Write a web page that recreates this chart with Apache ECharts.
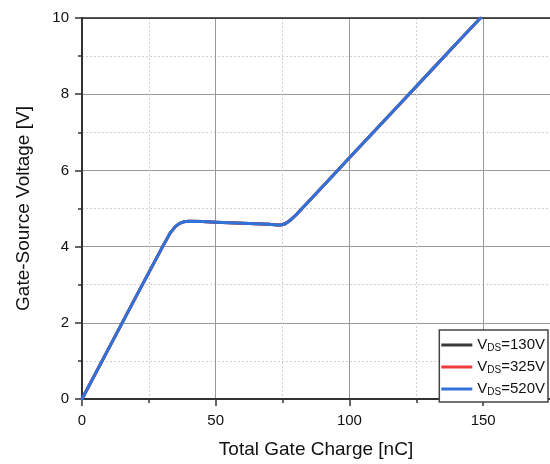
<!DOCTYPE html>
<html>
<head>
<meta charset="utf-8">
<script src="https://cdn.jsdelivr.net/npm/echarts@6/dist/echarts.min.js"></script>
<style>
  html, body { margin: 0; padding: 0; background: #fff; }
  #chart { width: 550px; height: 464px; }
</style>
</head>
<body>
<div id="chart"></div>
<script>
// total gate charge [nC]
const charge = [0, 10, 20, 30, 33, 35, 36.5, 38, 40, 45, 50, 55, 60, 65, 70, 73, 74.5, 76, 78, 80, 90, 100, 110, 120, 130, 140, 149]
// gate-source voltage [V], the three curves lie on top of each other
const vgs130 = [0, 1.33, 2.66, 3.98, 4.36, 4.53, 4.61, 4.65, 4.665, 4.66, 4.64, 4.625, 4.61, 4.6, 4.585, 4.57, 4.57, 4.6, 4.7, 4.83, 5.58, 6.33, 7.08, 7.83, 8.58, 9.33, 10]
const vgs325 = [0, 1.33, 2.66, 3.98, 4.36, 4.53, 4.61, 4.65, 4.665, 4.66, 4.64, 4.625, 4.61, 4.6, 4.585, 4.57, 4.57, 4.6, 4.7, 4.83, 5.58, 6.33, 7.08, 7.83, 8.58, 9.33, 10]
const vgs520 = [0, 1.33, 2.66, 3.98, 4.36, 4.53, 4.61, 4.65, 4.665, 4.66, 4.64, 4.625, 4.61, 4.6, 4.585, 4.57, 4.57, 4.6, 4.7, 4.83, 5.58, 6.33, 7.08, 7.83, 8.58, 9.33, 10]
const seriesNames = ['130V', '325V', '520V']
const xTicks = [0, 50, 100, 150]

const font = 'Liberation Sans, Arial, sans-serif'
const chart = echarts.init(document.getElementById('chart'))

const pairs = ys => charge.map((q, i) => [q, ys[i]])

const makeSeries = (name, ys, color) => ({
  name: name,
  type: 'line',
  data: pairs(ys),
  showSymbol: false,
  smooth: false,
  lineStyle: { color: color, width: 3, join: 'round', cap: 'round' },
  itemStyle: { color: color }
})

const option = {
  animation: false,
  grid: { left: 82, right: 0, top: 18, bottom: 62 },
  legend: {
    orient: 'vertical',
    right: 2,
    bottom: 62,
    padding: [4, 3, 5, 2],
    itemGap: 3,
    itemWidth: 31,
    itemHeight: 3,
    icon: 'rect',
    backgroundColor: '#fff',
    borderColor: '#444',
    borderWidth: 1.5,
    borderRadius: 0,
    data: seriesNames,
    formatter: name => '{v|V}{s|DS}{v|=' + name + '}',
    textStyle: {
      fontFamily: font,
      rich: {
        v: { fontSize: 15, fontFamily: font, color: '#111', verticalAlign: 'top', lineHeight: 16 },
        s: { fontSize: 10, fontFamily: font, color: '#111', verticalAlign: 'bottom', lineHeight: 10, padding: [9, 0, 0, 0] }
      }
    }
  },
  xAxis: [
    {
      type: 'value',
      min: 0,
      max: 175,
      interval: 50,
      name: 'Total Gate Charge [nC]',
      nameLocation: 'middle',
      nameGap: 41,
      nameTextStyle: { fontSize: 19, fontFamily: font, color: '#111' },
      axisLine: { show: true, lineStyle: { color: '#333', width: 2 } },
      axisTick: { show: true, length: 7, customValues: xTicks, lineStyle: { color: '#333', width: 1.5 } },
      minorTick: { show: true, splitNumber: 2, length: 4, lineStyle: { color: '#333', width: 1.5 } },
      axisLabel: { customValues: xTicks, margin: 14, fontSize: 15, fontFamily: font, color: '#111' },
      splitLine: { show: true, lineStyle: { color: '#999', width: 1 } },
      minorSplitLine: { show: true, lineStyle: { color: '#d0d0d0', width: 1, type: [2, 2] } }
    },
    {
      type: 'value',
      position: 'top',
      min: 0,
      max: 175,
      axisLine: { show: true, lineStyle: { color: '#222', width: 1.5 } },
      axisTick: { show: false },
      axisLabel: { show: false },
      splitLine: { show: false }
    }
  ],
  yAxis: {
    type: 'value',
    min: 0,
    max: 10,
    interval: 2,
    name: 'Gate-Source Voltage [V]',
    nameLocation: 'middle',
    nameGap: 49,
    nameTextStyle: { fontSize: 19, fontFamily: font, color: '#111' },
    axisLine: { show: true, lineStyle: { color: '#333', width: 2 } },
    axisTick: { show: true, length: 7, lineStyle: { color: '#333', width: 1.5 } },
    minorTick: { show: true, splitNumber: 2, length: 4, lineStyle: { color: '#333', width: 1.5 } },
    axisLabel: { margin: 13, fontSize: 15, fontFamily: font, color: '#111' },
    splitLine: { show: true, lineStyle: { color: '#999', width: 1 } },
    minorSplitLine: { show: true, lineStyle: { color: '#d0d0d0', width: 1, type: [2, 2] } }
  },
  series: [
    makeSeries(seriesNames[0], vgs130, '#3a3a3a'),
    makeSeries(seriesNames[1], vgs325, '#ee3b3b'),
    makeSeries(seriesNames[2], vgs520, '#2f72d9')
  ]
}

chart.setOption(option)
</script>
</body>
</html>
